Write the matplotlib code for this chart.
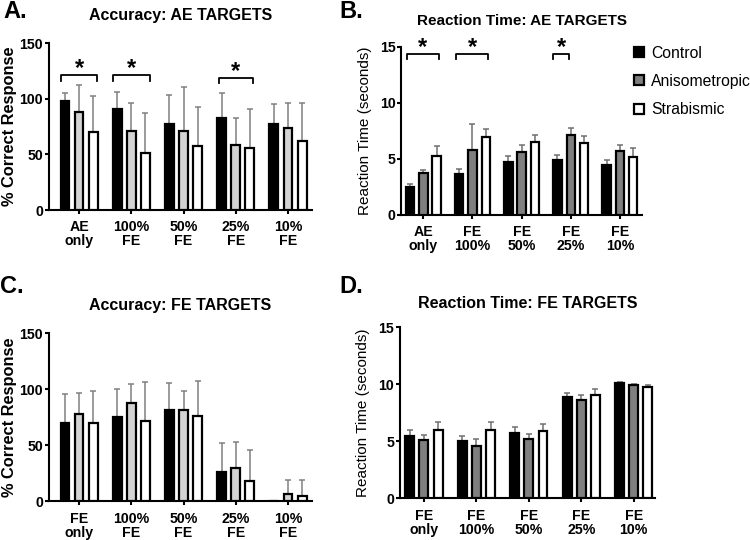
import numpy as np
import matplotlib
matplotlib.use("Agg")
import matplotlib.pyplot as plt
from matplotlib.patches import Patch

plt.rcParams['font.family'] = ['Liberation Sans', 'DejaVu Sans']

groups = ['Control', 'Anisometropic', 'Strabismic']

# Panel A: accuracy, AE targets
acc_ae_labels = ['AE\nonly', '100%\nFE', '50%\nFE', '25%\nFE', '10%\nFE']
acc_ae_mean = {
    'Control':       [98, 90.5, 77, 83, 77],
    'Anisometropic': [88.5, 71, 71, 58.5, 73.5],
    'Strabismic':    [70.5, 51, 58, 55.5, 62.5],
}
acc_ae_err = {
    'Control':       [7, 16, 26, 22, 18.5],
    'Anisometropic': [23.5, 25, 40, 24.5, 22.5],
    'Strabismic':    [32, 36, 35, 35, 33.5],
}

# Panel B: reaction time, AE targets
rt_ae_labels = ['AE\nonly', 'FE\n100%', 'FE\n50%', 'FE\n25%', 'FE\n10%']
rt_ae_mean = {
    'Control':       [2.5, 3.65, 4.75, 4.9, 4.45],
    'Anisometropic': [3.7, 5.8, 5.6, 7.1, 5.7],
    'Strabismic':    [5.3, 7.0, 6.5, 6.4, 5.2],
}
rt_ae_err = {
    'Control':       [0.25, 0.45, 0.5, 0.45, 0.45],
    'Anisometropic': [0.35, 2.3, 0.65, 0.65, 0.55],
    'Strabismic':    [0.9, 0.65, 0.65, 0.65, 0.8],
}

# Panel C: accuracy, FE targets
acc_fe_labels = ['FE\nonly', '100%\nFE', '50%\nFE', '25%\nFE', '10%\nFE']
acc_fe_mean = {
    'Control':       [70, 75, 81, 26, 0],
    'Anisometropic': [78, 88, 81, 30, 6],
    'Strabismic':    [70, 72, 76, 18, 5],
}
acc_fe_err = {
    'Control':       [26, 25, 24.5, 26, 0],
    'Anisometropic': [19, 17, 17.5, 23, 13],
    'Strabismic':    [28, 34, 31, 28, 13.5],
}

# Panel D: reaction time, FE targets
rt_fe_labels = ['FE\nonly', 'FE\n100%', 'FE\n50%', 'FE\n25%', 'FE\n10%']
rt_fe_mean = {
    'Control':       [5.5, 5.0, 5.7, 8.9, 10.1],
    'Anisometropic': [5.1, 4.6, 5.2, 8.65, 9.9],
    'Strabismic':    [6.0, 6.0, 5.9, 9.05, 9.8],
}
rt_fe_err = {
    'Control':       [0.5, 0.5, 0.6, 0.35, 0.1],
    'Anisometropic': [0.45, 0.6, 0.45, 0.45, 0.1],
    'Strabismic':    [0.7, 0.7, 0.65, 0.5, 0.1],
}

# significance brackets: (group index, x offset start, x offset end)
acc_ae_sig = [(0, -0.35, 0.35), (1, -0.35, 0.35), (3, -0.33, 0.33)]
rt_ae_sig = [(0, -0.33, 0.31), (1, -0.33, 0.31), (3, -0.36, -0.03)]


def draw_panel(ax, labels, means, errs, aniso_color, ylim, yticks, xlim,
               err_color='#808080'):
    x = np.arange(len(labels))
    offsets = [-0.27, 0.0, 0.27]
    colors = {'Control': 'black', 'Anisometropic': aniso_color, 'Strabismic': 'white'}
    for off, g in zip(offsets, groups):
        m = np.array(means[g])
        e = np.array(errs[g])
        ax.bar(x + off, m, width=0.17, color=colors[g], edgecolor='black',
               linewidth=1.6, zorder=3)
        keep = e > 0
        ax.errorbar((x + off)[keep], m[keep], yerr=[np.zeros(keep.sum()), e[keep]],
                    fmt='none', ecolor=err_color, elinewidth=1.1, capsize=2.5,
                    capthick=1.1, zorder=2)
    ax.set_xlim(*xlim)
    ax.set_ylim(*ylim)
    ax.set_yticks(yticks)
    ax.set_xticks(x)
    ax.set_xticklabels(labels, fontweight='bold', fontsize=10.2, linespacing=1.0)
    for t in ax.get_yticklabels():
        t.set_fontweight('bold')
        t.set_fontsize(10.2)
    for s in ['top', 'right']:
        ax.spines[s].set_visible(False)
    for s in ['left', 'bottom']:
        ax.spines[s].set_linewidth(1.5)
    ax.tick_params(width=1.5, length=3, pad=1)
    ax.tick_params(axis='x', pad=4.5)


def draw_sig(ax, sig, y, tip):
    for gi, a, b in sig:
        ax.plot([gi + a, gi + a, gi + b, gi + b], [y - tip, y, y, y - tip],
                color='black', lw=1.3, clip_on=False)
        ax.text(gi + (a + b) / 2, y, '*', ha='center', va='baseline',
                fontsize=17, fontweight='bold')


fig = plt.figure(figsize=(7.5, 5.4), dpi=100)

axA = fig.add_axes([0.065, 0.611, 0.351, 0.309])
draw_panel(axA, acc_ae_labels, acc_ae_mean, acc_ae_err, '#d3d3d3',
           (0, 150), [0, 50, 100, 150], (-0.58, 4.46))
draw_sig(axA, acc_ae_sig[:2], 121, 5)
draw_sig(axA, acc_ae_sig[2:], 119, 5)
axA.set_ylabel('% Correct Response', fontsize=11.8, fontweight='bold', labelpad=2)
axA.set_title('Accuracy: AE TARGETS', fontsize=11.5, fontweight='bold', pad=17)

axB = fig.add_axes([0.535, 0.602, 0.321, 0.311])
draw_panel(axB, rt_ae_labels, rt_ae_mean, rt_ae_err, '#7f7f7f',
           (0, 15), [0, 5, 10, 15], (-0.45, 4.45), err_color='#707070')
draw_sig(axB, rt_ae_sig, 14.35, 0.45)
axB.set_ylabel('Reaction Time (seconds)', fontsize=11, labelpad=6)
axB.set_title('Reaction Time: AE TARGETS', fontsize=11, fontweight='bold', pad=16)

axC = fig.add_axes([0.065, 0.072, 0.351, 0.311])
draw_panel(axC, acc_fe_labels, acc_fe_mean, acc_fe_err, '#d3d3d3',
           (0, 150), [0, 50, 100, 150], (-0.58, 4.46))
axC.set_ylabel('% Correct Response', fontsize=11.8, fontweight='bold', labelpad=2)
axC.set_title('Accuracy: FE TARGETS', fontsize=11.5, fontweight='bold', pad=17)

axD = fig.add_axes([0.533, 0.077, 0.34, 0.317])
draw_panel(axD, rt_fe_labels, rt_fe_mean, rt_fe_err, '#7f7f7f',
           (0, 15), [0, 5, 10, 15], (-0.46, 4.4), err_color='#707070')
axD.set_ylabel('Reaction Time (seconds)', fontsize=11, labelpad=6)
axD.set_title('Reaction Time: FE TARGETS', fontsize=11.5, fontweight='bold', pad=14)

# legend
handles = [Patch(facecolor='black', edgecolor='black', linewidth=1.6),
           Patch(facecolor='#7f7f7f', edgecolor='black', linewidth=1.6),
           Patch(facecolor='white', edgecolor='black', linewidth=1.6)]
fig.legend(handles, groups, loc='upper left', bbox_to_anchor=(0.835, 0.93),
           frameon=False, fontsize=11.3, handlelength=0.6, handleheight=0.6,
           handletextpad=0.5, labelspacing=0.85, borderpad=0)

# panel letters
for lbl, x, y in [('A.', 0.005, 0.978), ('B.', 0.452, 0.978),
                  ('C.', 0.0, 0.47), ('D.', 0.452, 0.47)]:
    fig.text(x, y, lbl, fontsize=17, fontweight='bold', va='center', ha='left')

fig.savefig('out.png', dpi=100)
